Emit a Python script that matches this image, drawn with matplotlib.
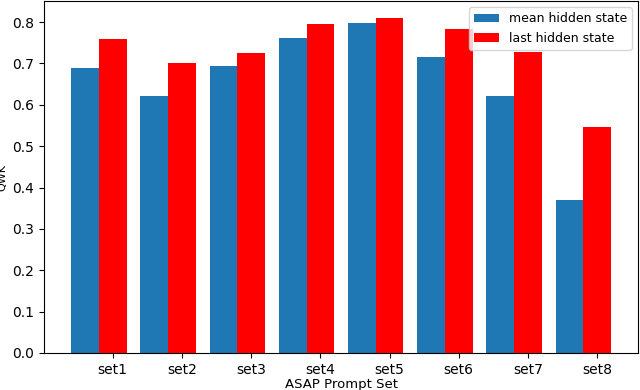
import matplotlib
matplotlib.use("Agg")
import matplotlib.pyplot as plt
import numpy as np

sets = ["set1", "set2", "set3", "set4", "set5", "set6", "set7", "set8"]
mean_hidden = [0.690, 0.621, 0.693, 0.762, 0.798, 0.715, 0.622, 0.370]
last_hidden = [0.759, 0.700, 0.724, 0.796, 0.810, 0.784, 0.727, 0.546]

x = np.arange(1, len(sets) + 1)
width = 0.4

fig = plt.figure(figsize=(6.4, 3.9), dpi=100)
ax = fig.add_subplot(111)
fig.subplots_adjust(left=0.069, right=0.997, top=0.997, bottom=0.095)

ax.bar(x - width, mean_hidden, width, label="mean hidden state")
ax.bar(x, last_hidden, width, color="red", label="last hidden state")

ax.set_xticks(x)
ax.set_xticklabels(sets)
ax.set_xlabel("ASAP Prompt Set", fontsize=9.5, labelpad=1)
ax.set_ylabel("QWK", fontsize=8, labelpad=4)
ax.legend(loc="upper right", fontsize=9)

plt.savefig("out.png")
